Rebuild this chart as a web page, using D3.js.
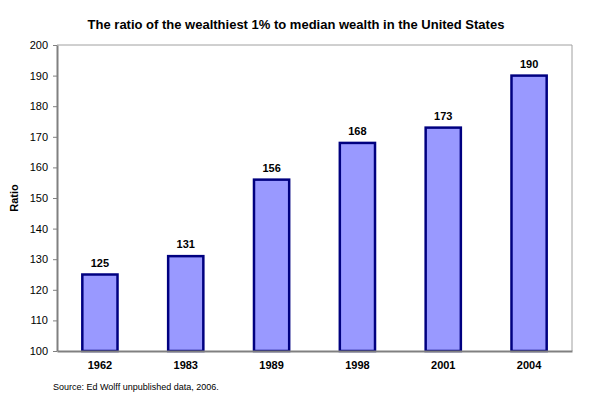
<!DOCTYPE html>
<html>
<head>
<meta charset="utf-8">
<script src="https://cdn.jsdelivr.net/npm/d3@7"></script>
<style>
  body { margin: 0; background: #fff; }
  text { font-family: Arial, "Liberation Sans", sans-serif; }
</style>
</head>
<body>
<div id="chart"></div>
<script>
var years  = ["1962", "1983", "1989", "1998", "2001", "2004"];
var ratios = [125, 131, 156, 168, 173, 190];
var yTicks = [100, 110, 120, 130, 140, 150, 160, 170, 180, 190, 200];

var width = 600, height = 406;
var margin = {top: 45, right: 28, bottom: 55, left: 57};

var svg = d3.select("#chart")
  .append("svg")
    .attr("width", width)
    .attr("height", height);

var x = d3.scaleBand()
  .domain(years)
  .range([margin.left, width - margin.right])
  .paddingInner(0.59)
  .paddingOuter(0.295);

var y = d3.scaleLinear()
  .domain([100, 200])
  .range([height - margin.bottom, margin.top]);

// plot area border (top + right)
svg.append("path")
  .attr("d", "M" + margin.left + "," + margin.top + "H" + (width - margin.right) + "V" + (height - margin.bottom))
  .style("fill", "none")
  .style("stroke", "#a0a0a0")
  .style("stroke-width", 1);

// title
svg.append("text")
  .attr("x", 296)
  .attr("y", 29)
  .attr("text-anchor", "middle")
  .style("font-size", "13px")
  .style("font-weight", "bold")
  .text("The ratio of the wealthiest 1% to median wealth in the United States");

// y axis
var yAxis = svg.append("g")
  .attr("transform", "translate(" + margin.left + ",0)")
  .call(d3.axisLeft(y).tickValues(yTicks).tickSize(4).tickSizeOuter(0).tickPadding(5));
yAxis.select(".domain").style("stroke", "#808080").style("stroke-width", 2);
yAxis.selectAll(".tick line").style("stroke", "#808080");
yAxis.selectAll("text").style("font-size", "11px").style("fill", "#000");

svg.append("text")
  .attr("transform", "translate(18," + ((margin.top + height - margin.bottom) / 2) + ") rotate(-90)")
  .attr("text-anchor", "middle")
  .style("font-size", "11px")
  .style("font-weight", "bold")
  .text("Ratio");

// bars
svg.selectAll("rect.bar")
  .data(ratios)
  .enter()
  .append("rect")
    .attr("class", "bar")
    .attr("x", function(d, i) { return x(years[i]); })
    .attr("y", function(d) { return y(d); })
    .attr("width", x.bandwidth())
    .attr("height", function(d) { return y(100) - y(d); })
    .style("fill", "#9999ff")
    .style("stroke", "#000080")
    .style("stroke-width", 2.5);

// value labels
svg.selectAll("text.val")
  .data(ratios)
  .enter()
  .append("text")
    .attr("class", "val")
    .attr("x", function(d, i) { return x(years[i]) + x.bandwidth() / 2; })
    .attr("y", function(d) { return y(d) - 8; })
    .attr("text-anchor", "middle")
    .style("font-size", "11px")
    .style("font-weight", "bold")
    .text(function(d) { return d; });

// x axis
var xAxis = svg.append("g")
  .attr("transform", "translate(0," + (height - margin.bottom) + ")")
  .call(d3.axisBottom(x).tickSize(0).tickPadding(10));
xAxis.select(".domain").style("stroke", "#808080").style("stroke-width", 2);
xAxis.selectAll("text").style("font-size", "11px").style("font-weight", "bold").style("fill", "#000");

// source
svg.append("text")
  .attr("x", 53)
  .attr("y", 390)
  .style("font-size", "9px")
  .text("Source: Ed Wolff unpublished data, 2006.");
</script>
</body>
</html>
